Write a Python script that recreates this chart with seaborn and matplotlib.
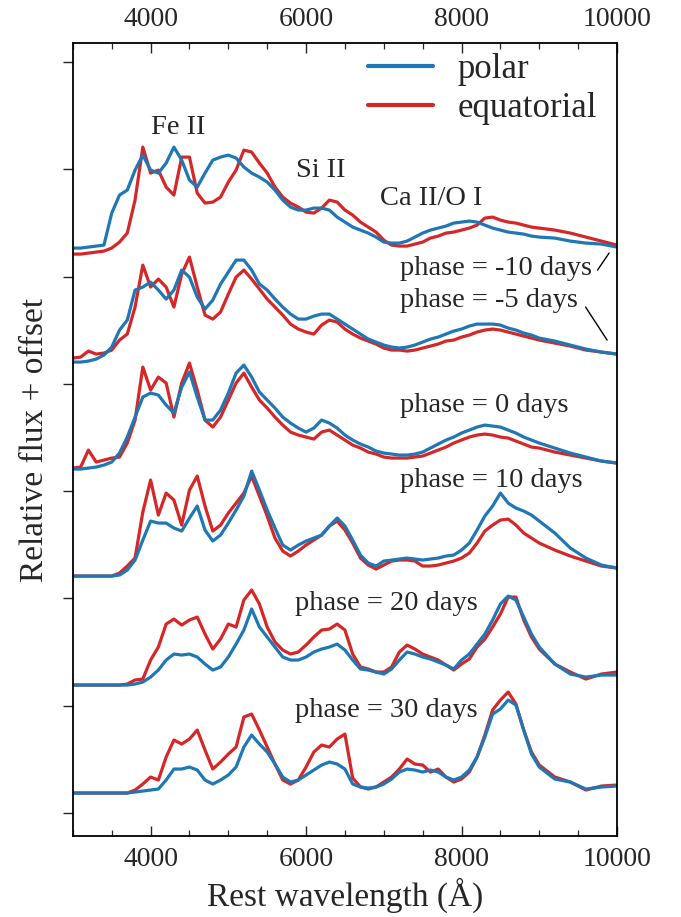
import numpy as np
import pandas as pd
import matplotlib
matplotlib.use("Agg")
import matplotlib.pyplot as plt
from matplotlib.lines import Line2D
from matplotlib.ticker import MultipleLocator
import seaborn as sns

# ---------------- data ----------------
wave = list(range(3000, 9001, 100)) + [9200, 9400, 9600, 9800, 10000]

phases = ["-10", "-5", "0", "10", "20", "30"]
offsets = [558, 450, 343, 236, 127, 20]

polar_m10 = [7, 7, 8, 9, 10, 42, 60, 65, 85, 100,
             85, 82, 92, 108, 95, 75, 68, 82, 95, 98,
             100, 97, 88, 82, 78, 73, 65, 55, 48, 45,
             45, 47, 47, 45, 38, 33, 28, 25, 22, 18,
             13, 12, 12, 14, 18, 22, 25, 27, 29, 32,
             33, 34, 33, 30, 27, 25, 23, 22, 21, 19,
             18, 17, 14, 12, 11, 8]
equat_m10 = [1, 1, 2, 3, 4, 7, 13, 22, 55, 108,
             82, 85, 68, 60, 98, 98, 62, 52, 53, 58,
             73, 85, 105, 103, 92, 82, 68, 58, 52, 48,
             43, 42, 47, 55, 53, 45, 40, 33, 28, 23,
             15, 10, 9, 9, 11, 13, 17, 19, 22, 23,
             25, 27, 30, 37, 38, 35, 33, 32, 30, 28,
             27, 25, 22, 18, 14, 10]
polar_m5 = [1, 1, 2, 4, 8, 16, 33, 43, 73, 76,
            81, 73, 64, 73, 93, 86, 66, 54, 63, 79,
            91, 103, 103, 93, 79, 73, 64, 56, 49, 44,
            44, 47, 49, 49, 44, 39, 34, 29, 24, 21,
            18, 16, 15, 16, 18, 21, 24, 26, 29, 32,
            34, 37, 39, 39, 39, 38, 35, 33, 30, 28,
            25, 22, 18, 14, 11, 9]
equat_m5 = [5, 6, 12, 9, 10, 13, 23, 29, 56, 98,
            76, 84, 76, 56, 89, 106, 76, 48, 44, 51,
            69, 86, 93, 84, 74, 64, 56, 48, 39, 34,
            31, 29, 38, 43, 41, 34, 29, 25, 22, 19,
            15, 13, 13, 12, 13, 15, 17, 19, 22, 23,
            26, 28, 31, 33, 34, 33, 31, 29, 27, 25,
            23, 20, 17, 13, 11, 9]
polar_0 = [1, 1, 2, 3, 5, 8, 17, 33, 53, 73,
           77, 75, 65, 57, 83, 98, 73, 50, 50, 60,
           77, 97, 105, 93, 78, 70, 62, 53, 47, 42,
           38, 42, 50, 47, 42, 35, 30, 26, 23, 19,
           17, 16, 15, 15, 16, 18, 22, 26, 30, 33,
           37, 40, 43, 45, 44, 43, 40, 37, 33, 30,
           27, 22, 17, 13, 9, 7]
equat_0 = [2, 3, 20, 8, 10, 12, 13, 27, 50, 103,
           80, 93, 87, 53, 87, 107, 80, 50, 43, 53,
           70, 87, 97, 83, 70, 62, 53, 45, 38, 35,
           33, 31, 38, 40, 35, 30, 25, 22, 18, 16,
           13, 12, 12, 12, 13, 14, 17, 20, 23, 27,
           30, 33, 35, 36, 35, 33, 32, 29, 26, 23,
           22, 18, 15, 12, 9, 7]
polar_10 = [1, 1, 1, 1, 1, 1, 2, 7, 17, 37,
            56, 54, 54, 49, 46, 59, 71, 47, 36, 42,
            54, 67, 81, 106, 87, 67, 49, 32, 27, 32,
            36, 39, 42, 51, 59, 51, 37, 22, 14, 11,
            16, 17, 18, 19, 18, 17, 18, 19, 21, 22,
            27, 34, 47, 61, 71, 84, 74, 69, 66, 62,
            56, 44, 29, 19, 12, 9]
equat_10 = [1, 1, 1, 1, 1, 1, 4, 11, 19, 65,
            97, 62, 84, 77, 52, 87, 101, 71, 46, 52,
            64, 74, 84, 101, 81, 61, 39, 26, 21, 26,
            32, 37, 42, 51, 56, 47, 34, 19, 12, 8,
            12, 16, 17, 17, 16, 11, 11, 12, 14, 16,
            19, 24, 34, 46, 52, 57, 58, 52, 44, 39,
            34, 27, 21, 16, 11, 9]
polar_20 = [1, 1, 1, 1, 1, 1, 1, 1, 2, 4,
            9, 16, 26, 32, 31, 32, 29, 22, 16, 19,
            29, 42, 56, 77, 59, 49, 39, 29, 26, 26,
            29, 34, 37, 39, 42, 36, 26, 17, 16, 14,
            12, 17, 26, 34, 32, 29, 27, 24, 21, 17,
            26, 32, 42, 52, 66, 82, 90, 86, 69, 52,
            39, 22, 12, 9, 11, 11]
equat_20 = [1, 1, 1, 1, 1, 1, 1, 2, 6, 7,
            26, 39, 62, 67, 61, 66, 69, 52, 37, 47,
            62, 59, 86, 96, 82, 59, 44, 36, 32, 34,
            41, 49, 56, 57, 62, 56, 32, 19, 17, 14,
            14, 19, 34, 41, 37, 32, 29, 26, 21, 16,
            22, 27, 39, 47, 59, 72, 89, 89, 66, 49,
            37, 22, 14, 7, 12, 14]
polar_30 = [0, 0, 0, 0, 0, 0, 0, 0, 1, 2,
            3, 4, 13, 24, 24, 26, 23, 13, 9, 13,
            18, 26, 46, 58, 49, 41, 29, 16, 11, 13,
            18, 23, 28, 31, 29, 24, 9, 6, 5, 6,
            9, 14, 21, 24, 23, 21, 23, 21, 16, 13,
            16, 23, 36, 56, 79, 84, 93, 88, 63, 39,
            26, 14, 11, 4, 6, 7]
equat_30 = [0, 0, 0, 0, 0, 0, 0, 0, 3, 9,
            16, 13, 36, 53, 49, 54, 63, 43, 24, 31,
            39, 46, 76, 79, 63, 46, 29, 13, 9, 13,
            26, 41, 48, 46, 54, 59, 15, 6, 4, 6,
            11, 16, 24, 34, 29, 28, 21, 24, 16, 11,
            14, 21, 36, 58, 83, 93, 101, 89, 63, 41,
            28, 16, 11, 3, 7, 8]

polar_sets = [polar_m10, polar_m5, polar_0, polar_10, polar_20, polar_30]
equat_sets = [equat_m10, equat_m5, equat_0, equat_10, equat_20, equat_30]

label_y = [545, 513, 408, 333, 210, 103]
label_x = [7208, 7208, 7208, 7208, 5861, 5861]

line_ids = ["Fe II", "Si II", "Ca II/O I"]
line_x = [4351, 6193, 7608]
line_y = [686, 643, 615]

BLUE = "#1f77b4"
RED = "#d62728"

# ---------------- build tidy frame ----------------
rows = []
for ph, off, pol, eq in zip(phases, offsets, polar_sets, equat_sets):
    for w, f in zip(wave, pol):
        rows.append(dict(wave=w, flux=f + off, phase=ph, view="polar"))
    for w, f in zip(wave, eq):
        rows.append(dict(wave=w, flux=f + off, phase=ph, view="equatorial"))
df = pd.DataFrame(rows)

sns.set_style("ticks")
plt.rcParams["font.family"] = ["Liberation Serif", "DejaVu Serif"]

fig = plt.figure(figsize=(6.81, 9.17), dpi=100)
ax = fig.add_axes([0.107, 0.0883, 0.799, 0.8647])

sns.lineplot(data=df[df.view == "equatorial"], x="wave", y="flux", units="phase",
             estimator=None, sort=False, color=RED, linewidth=2.3, ax=ax, legend=False)
sns.lineplot(data=df[df.view == "polar"], x="wave", y="flux", units="phase",
             estimator=None, sort=False, color=BLUE, linewidth=2.3, ax=ax, legend=False)

ax.set_xlim(3000, 10000)
ax.set_ylim(-23, 770)

ax.xaxis.set_major_locator(MultipleLocator(2000))
ax.xaxis.set_minor_locator(MultipleLocator(500))
ax.set_yticks([107.3 * k for k in range(8)])
ax.set_yticklabels([])
ax.tick_params(axis="x", which="both", direction="in", top=True, labeltop=True,
               bottom=True, labelbottom=True, labelsize=20, pad=8)
ax.tick_params(axis="x", which="major", length=7, width=1.0)
ax.tick_params(axis="x", which="minor", length=4, width=0.9)
ax.tick_params(axis="y", which="major", direction="out", length=7, width=1.0,
               left=True, right=False)
for s in ax.spines.values():
    s.set_linewidth(1.3)
    s.set_color("black")

ax.set_xlabel("Rest wavelength (Å)", fontsize=24, labelpad=4)
ax.set_ylabel("Relative flux + offset", fontsize=24, labelpad=6)

for ph, x, y in zip(phases, label_x, label_y):
    ax.text(x, y, f"phase = {ph} days", fontsize=20.5, ha="left", va="center")

for t, x, y in zip(line_ids, line_x, line_y):
    ax.text(x, y, t, fontsize=20.5, ha="center", va="center")

ax.plot([9750, 9898], [543, 560], color="black", lw=1.0)
ax.plot([9596, 9873], [506, 473], color="black", lw=1.0)

handles = [Line2D([], [], color=BLUE, lw=3), Line2D([], [], color=RED, lw=3)]
ax.legend(handles, ["polar", "equatorial"], loc="upper left",
          bbox_to_anchor=(0.542, 0.987), frameon=False, fontsize=25,
          handlelength=1.87, handletextpad=0.72, labelspacing=0.17,
          borderpad=0, borderaxespad=0)

fig.savefig("out.png", dpi=100)
